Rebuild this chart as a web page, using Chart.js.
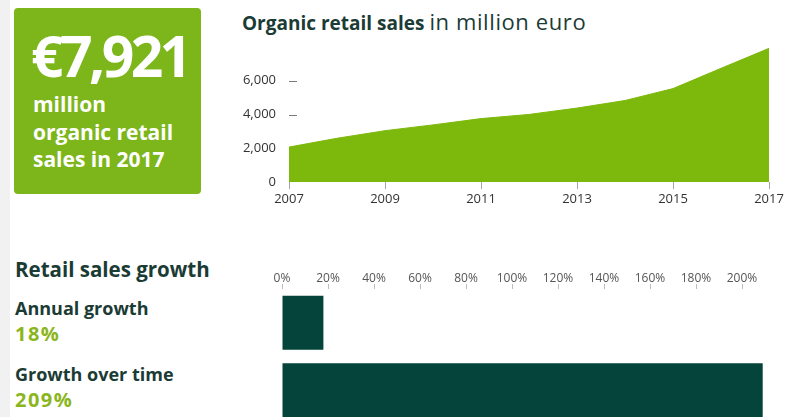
<!DOCTYPE html>
<html>
<head>
<meta charset="utf-8">
<script src="https://cdn.jsdelivr.net/npm/chart.js@4.4.0/dist/chart.umd.min.js"></script>
<style>
  html, body { margin: 0; padding: 0; width: 789px; height: 417px; overflow: hidden; background: #fff; font-family: "Open Sans", sans-serif; }
  .strip { position: absolute; left: 0; top: 0; width: 10px; height: 417px; background: #f1f1f1; }
  .box { position: absolute; left: 14px; top: 8px; width: 187px; height: 186px; background: #7cb61a; border-radius: 4px; }
  .txt { position: absolute; white-space: nowrap; line-height: 1; font-weight: 700; }
  #big { left: 31px; top: 27px; font-size: 57px; color: #fff; letter-spacing: -3.6px; }
  #sub { left: 33px; top: 91px; font-size: 21px; line-height: 27.5px; color: #fff; }
  #title { left: 242px; top: 10px; font-size: 19px; color: #1b3b35; }
  #title span { font-weight: 400; font-size: 22px; letter-spacing: 0.6px; }
  .dark { color: #1b3b35; }
  .lime { color: #8ab51c; font-size: 20px; letter-spacing: 1.5px; }
  canvas { position: absolute; }
  #salesChart { left: 230px; top: 40px; }
  #growthChart { left: 262px; top: 255px; }
</style>
</head>
<body>
<div class="strip"></div>
<div class="box"></div>
<div class="txt" id="big">€7,921</div>
<div class="txt" id="sub">million<br>organic retail<br>sales in 2017</div>
<div class="txt" id="title">Organic retail sales <span>in million euro</span></div>
<div class="txt dark" style="left:15px;top:259px;font-size:20.5px">Retail sales growth</div>
<div class="txt dark" style="left:15px;top:299px;font-size:18px">Annual growth</div>
<div class="txt lime" style="left:15px;top:324px">18%</div>
<div class="txt dark" style="left:15px;top:365px;font-size:18px">Growth over time</div>
<div class="txt lime" style="left:15px;top:390px">209%</div>

<canvas id="salesChart" width="559" height="175"></canvas>
<canvas id="growthChart" width="527" height="169"></canvas>

<script>
const years = [2007, 2008, 2009, 2010, 2011, 2012, 2013, 2014, 2015, 2016, 2017];
const sales = [2069, 2591, 3041, 3385, 3756, 4004, 4380, 4830, 5535, 6736, 7921];
const yearTicks = [2007, 2009, 2011, 2013, 2015, 2017];
const salesTicks = [0, 2000, 4000, 6000];

const growthLabels = ["Annual growth", "Growth over time"];
const growthValues = [18, 209];
const growthTicks = [0, 20, 40, 60, 80, 100, 120, 140, 160, 180, 200];

const AREA_GREEN = "#7db80c";
const BAR_GREEN = "#04443a";
const axisFont = { family: "Open Sans", size: 13 };
const pctFont = { family: "Open Sans", size: 12 };

// little dashes next to the y labels, drawn under the area
const yDashes = {
    id: "yDashes",
    beforeDatasetsDraw(chart) {
        const { ctx, chartArea, scales } = chart;
        ctx.save();
        ctx.strokeStyle = "#7a7a7a";
        ctx.lineWidth = 1;
        scales.y.ticks.forEach((t) => {
            if (t.value === 0) return;
            const py = Math.round(scales.y.getPixelForValue(t.value)) + 0.5;
            ctx.beginPath();
            ctx.moveTo(chartArea.left, py);
            ctx.lineTo(chartArea.left + 8, py);
            ctx.stroke();
        });
        ctx.restore();
    },
};

new Chart(document.getElementById("salesChart"), {
    type: "line",
    data: {
        datasets: [{
            data: years.map((y, i) => ({ x: y, y: sales[i] })),
            fill: "origin",
            backgroundColor: AREA_GREEN,
            borderColor: AREA_GREEN,
            borderWidth: 1,
            pointRadius: 0,
            tension: 0,
        }],
    },
    options: {
        responsive: false, animation: false, devicePixelRatio: 1,
        layout: { padding: { top: 7, right: 20, left: 0, bottom: 0 } },
        plugins: { legend: { display: false }, tooltip: { enabled: false } },
        scales: {
            x: {
                type: "linear", min: 2007, max: 2017,
                afterBuildTicks: (axis) => { axis.ticks = yearTicks.map((v) => ({ value: v })); },
                afterFit: (axis) => { axis.height = 33; axis.paddingLeft = 0; axis.paddingRight = 0; },
                grid: { drawOnChartArea: false, tickLength: 7, color: "#a5a5a5" },
                border: { display: false },
                ticks: { padding: 2, color: "#333", font: axisFont, callback: (v) => String(v) },
            },
            y: {
                min: 0, max: 8000,
                afterBuildTicks: (axis) => { axis.ticks = salesTicks.map((v) => ({ value: v })); },
                afterFit: (axis) => { axis.width = 59; axis.paddingTop = 0; axis.paddingBottom = 0; },
                grid: { display: false },
                border: { display: false },
                ticks: { padding: 5, color: "#333", font: axisFont, callback: (v) => v.toLocaleString("en-US") },
            },
        },
    },
    plugins: [yDashes],
});

new Chart(document.getElementById("growthChart"), {
    type: "bar",
    data: {
        labels: growthLabels,
        datasets: [{
            data: growthValues,
            backgroundColor: BAR_GREEN,
            categoryPercentage: 1,
            barPercentage: 0.8,
        }],
    },
    options: {
        indexAxis: "y",
        responsive: false, animation: false, devicePixelRatio: 1,
        layout: { padding: { top: 0, right: 24, left: 20, bottom: 0 } },
        plugins: { legend: { display: false }, tooltip: { enabled: false } },
        scales: {
            x: {
                position: "top", min: 0, max: 210,
                afterBuildTicks: (axis) => { axis.ticks = growthTicks.map((v) => ({ value: v })); },
                afterFit: (axis) => { axis.height = 34; axis.paddingLeft = 0; axis.paddingRight = 0; },
                grid: { drawOnChartArea: false, tickLength: 5, color: "#bdbdbd" },
                border: { display: false },
                ticks: { padding: -2, color: "#555", font: pctFont, callback: (v) => v + "%" },
            },
            y: { display: false },
        },
    },
});
</script>
</body>
</html>
